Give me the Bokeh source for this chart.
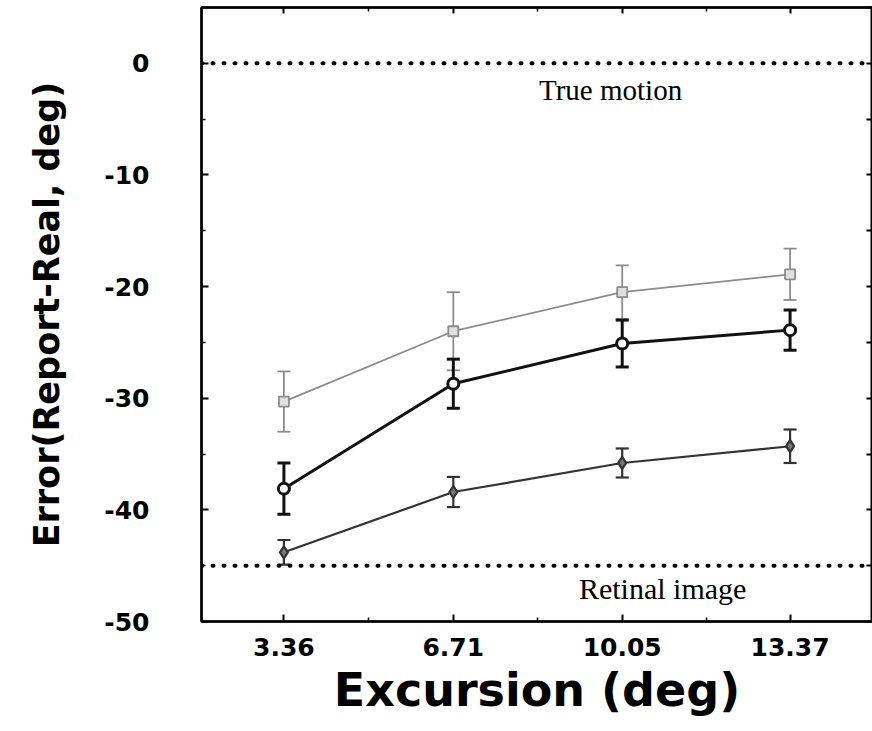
from bokeh.plotting import figure
from bokeh.models import (Range1d, LinearAxis, FixedTicker, Whisker, TeeHead,
                          ColumnDataSource, Span, Label, CustomJSTickFormatter)
from bokeh.embed import file_html
from bokeh.resources import INLINE

# ---- data ----
excursion = [3.36, 6.71, 10.05, 13.37]
x_tick_labels = ["3.36", "6.71", "10.05", "13.37"]
y_ticks = [-50, -40, -30, -20, -10, 0]
y_tick_labels = ["-50", "-40", "-30", "-20", "-10", "0"]

gray_mean = [-30.3, -24.0, -20.5, -18.9]
gray_err = [2.7, 3.5, 2.4, 2.3]

black_mean = [-38.1, -28.7, -25.1, -23.9]
black_err = [2.3, 2.2, 2.1, 1.8]

dark_mean = [-43.8, -38.4, -35.8, -34.3]
dark_err = [1.1, 1.35, 1.3, 1.5]

true_motion_level = 0
retinal_level = -45

# ---- figure ----
p = figure(width=872, height=731, x_range=Range1d(1.73, 15.0), y_range=Range1d(-50, 5),
           output_backend="svg", toolbar_location=None,
           min_border_left=201, min_border_right=0, min_border_top=7, min_border_bottom=110,
           x_axis_location="below", y_axis_location="left")
p.grid.visible = False
p.outline_line_color = "black"
p.outline_line_width = 2
p.background_fill_color = "white"
p.border_fill_color = "white"

minor_x = [(a + b) / 2 for a, b in zip(excursion[:-1], excursion[1:])]
minor_y = [t + 5 for t in y_ticks]

xt = FixedTicker(ticks=excursion, minor_ticks=minor_x)
yt = FixedTicker(ticks=y_ticks, minor_ticks=minor_y)

xa = p.xaxis[0]
xa.ticker = xt
xa.major_label_overrides = {v: s for v, s in zip(excursion, x_tick_labels)}
xa.axis_label = "Excursion (deg)"
xa.axis_label_text_font = "DejaVu Sans"
xa.axis_label_text_font_style = "bold"
xa.axis_label_text_font_size = "46px"
xa.axis_label_standoff = 4
xa.major_label_text_font = "DejaVu Sans"
xa.major_label_text_font_style = "bold"
xa.major_label_text_font_size = "25px"
xa.major_label_standoff = 16

ya = p.yaxis[0]
ya.ticker = yt
ya.major_label_overrides = {v: s for v, s in zip(y_ticks, y_tick_labels)}
ya.axis_label = "Error(Report-Real, deg)"
ya.axis_label_text_font = "DejaVu Sans"
ya.axis_label_text_font_style = "bold"
ya.axis_label_text_font_size = "35px"
ya.axis_label_standoff = 34
ya.major_label_text_font = "DejaVu Sans"
ya.major_label_text_font_style = "bold"
ya.major_label_text_font_size = "25px"
ya.major_label_text_align = "center"
ya.major_label_standoff = 52

for ax in (xa, ya):
    ax.axis_line_width = 2.5
    ax.axis_line_color = "black"
    ax.major_tick_in = 7
    ax.major_tick_out = 0
    ax.minor_tick_in = 4
    ax.minor_tick_out = 0
    ax.major_tick_line_width = 2
    ax.minor_tick_line_width = 1.5
    ax.axis_label_text_color = "black"
    ax.major_label_text_color = "black"

blank = CustomJSTickFormatter(code="return ''")
top = LinearAxis(ticker=FixedTicker(ticks=excursion, minor_ticks=minor_x),
                 formatter=blank, major_tick_in=6, major_tick_out=0,
                 minor_tick_in=4, minor_tick_out=0, axis_line_width=2.5,
                 major_tick_line_width=2, minor_tick_line_width=1.5, major_label_standoff=0)
right = LinearAxis(ticker=FixedTicker(ticks=y_ticks, minor_ticks=minor_y),
                   formatter=CustomJSTickFormatter(code="return ''"),
                   major_tick_in=6, major_tick_out=0,
                   minor_tick_in=6, minor_tick_out=0, axis_line_width=2,
                   major_tick_line_width=2, minor_tick_line_width=2, major_label_standoff=0)
p.add_layout(top, "above")
p.add_layout(right, "right")

# ---- reference dotted lines ----
for lvl in (true_motion_level, retinal_level):
    p.add_layout(Span(location=lvl, dimension="width", line_color="black",
                      line_width=4, line_dash="1 10", line_cap="round"))

p.add_layout(Label(x=9.82, y=-2.4, text="True motion", text_font="Liberation Serif",
                   text_font_size="29px", text_align="center", text_baseline="middle",
                   text_color="black"))
p.add_layout(Label(x=10.85, y=-47.05, text="Retinal image", text_font="Liberation Serif",
                   text_font_size="30px", text_align="center", text_baseline="middle",
                   text_color="black"))

# ---- series ----
series = [
    (gray_mean, gray_err, "#8c8c8c", 1.8, "square", "#e0e0e0", 10),
    (black_mean, black_err, "#111111", 3.0, "circle", "white", 11),
    (dark_mean, dark_err, "#333333", 2.2, "diamond", "#777777", 12),
]

for mean, err, color, lw, marker, fill, size in series:
    src = ColumnDataSource(dict(
        x=excursion, y=mean,
        upper=[m + e for m, e in zip(mean, err)],
        lower=[m - e for m, e in zip(mean, err)],
    ))
    p.add_layout(Whisker(source=src, base="x", upper="upper", lower="lower",
                         line_color=color, line_width=lw,
                         upper_head=TeeHead(size=13, line_color=color, line_width=lw),
                         lower_head=TeeHead(size=13, line_color=color, line_width=lw)))
    p.line("x", "y", source=src, line_color=color, line_width=lw)
    p.scatter("x", "y", source=src, marker=marker, size=size, line_color=color,
              line_width=lw, fill_color=fill)

open("out.html", "w").write(file_html(p, INLINE))
